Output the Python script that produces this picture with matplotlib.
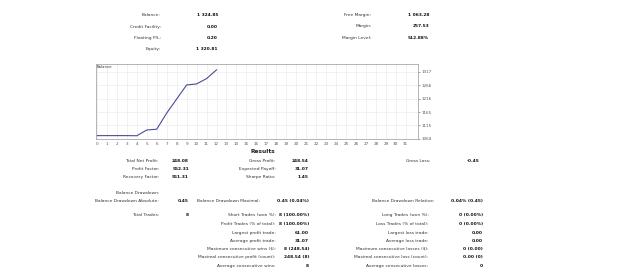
import matplotlib
matplotlib.use("Agg")
import matplotlib.pyplot as plt

W, H = 625, 274

# ---- data ----
trade_idx = [0, 1, 2, 3, 4, 5, 6, 7, 8, 9, 10, 11, 12]
balance = [1076.77, 1076.77, 1076.77, 1076.77, 1076.32, 1098.0, 1101.0,
           1162.0, 1215.0, 1268.0, 1272.0, 1292.0, 1324.85]
x_ticks = list(range(0, 32))
y_ticks = [1064, 1115, 1165, 1216, 1266, 1317]

top_labels = ["Balance:", "Credit Facility:", "Floating P/L:", "Equity:"]
top_values = ["1 324.85", "0.00", "0.20", "1 320.81"]
top2_labels = ["Free Margin:", "Margin:", "Margin Level:"]
top2_values = ["1 063.28", "257.53", "512.88%"]

res_col1 = [("Total Net Profit:", "248.08"), ("Profit Factor:", "552.31"),
            ("Recovery Factor:", "551.31")]
res_col2 = [("Gross Profit:", "248.54"), ("Expected Payoff:", "31.07"),
            ("Sharpe Ratio:", "1.45")]
res_col3 = [("Gross Loss:", "-0.45")]

trade_col2 = [("Short Trades (won %):", "8 (100.00%)"),
              ("Profit Trades (% of total):", "8 (100.00%)"),
              ("Largest profit trade:", "61.00"),
              ("Average profit trade:", "31.07"),
              ("Maximum consecutive wins ($):", "8 (248.54)"),
              ("Maximal consecutive profit (count):", "248.54 (8)"),
              ("Average consecutive wins:", "8")]
trade_col3 = [("Long Trades (won %):", "0 (0.00%)"),
              ("Loss Trades (% of total):", "0 (0.00%)"),
              ("Largest loss trade:", "0.00"),
              ("Average loss trade:", "0.00"),
              ("Maximum consecutive losses ($):", "0 (0.00)"),
              ("Maximal consecutive loss (count):", "0.00 (0)"),
              ("Average consecutive losses:", "0")]

plt.rcParams['font.family'] = ['DejaVu Sans']
FS = 3.2
fig = plt.figure(figsize=(W / 100, H / 100), dpi=100)


def T(x, y, s, ha='right', bold=False, size=FS, color='#333333'):
    fig.text(x / W, 1 - y / H, s, ha=ha, va='center', fontsize=size,
             fontweight='bold' if bold else 'normal', color=color)


# top summary
for i, (l, v) in enumerate(zip(top_labels, top_values)):
    y = [15, 27, 38, 48.7][i]
    T(161, y, l)
    T(218, y, v, bold=True, color='#111111')
for i, (l, v) in enumerate(zip(top2_labels, top2_values)):
    y = [15.3, 26.3, 37.7][i]
    T(371.5, y, l)
    T(429, y, v, bold=True, color='#111111')

# chart
x0, x1, y0, y1 = 96, 417.7, 64.3, 139
ax = fig.add_axes([x0 / W, 1 - y1 / H, (x1 - x0) / W, (y1 - y0) / H])
ax.plot(trade_idx, balance, color='#4b4b9c', lw=0.8)
ax.set_xlim(-0.1, 32.2)
ax.set_ylim(1064, 1346)
ax.set_xticks(x_ticks)
ax.set_xticklabels([str(t) for t in x_ticks])
ax.set_yticks(y_ticks)
ax.set_yticklabels([str(t) for t in y_ticks])
ax.yaxis.tick_right()
ax.tick_params(axis='both', labelsize=3.0, colors='#555555', length=1.5,
               width=0.4, pad=1.5)
ax.tick_params(axis='x', length=0, pad=2)
ax.grid(True, color='#ebebeb', lw=0.5)
for s in ax.spines.values():
    s.set_color('#a8a8a8')
    s.set_linewidth(0.6)
ax.text(0.003, 0.985, "Balance", transform=ax.transAxes, ha='left', va='top',
        fontsize=2.8, color='#333333')

# results
T(263, 151.7, "Results", ha='center', bold=True, size=4.2, color='#222222')
for i, (l, v) in enumerate(res_col1):
    y = [160.7, 169, 177.3][i]
    T(159, y, l)
    T(189, y, v, bold=True, color='#111111')
for i, (l, v) in enumerate(res_col2):
    y = [160.7, 169, 177.3][i]
    T(275.7, y, l)
    T(308.5, y, v, bold=True, color='#111111')
for l, v in res_col3:
    T(430.5, 160.7, l)
    T(479.5, 160.7, v, bold=True, color='#111111')

T(159, 192.7, "Balance Drawdown:")
T(159, 200.7, "Balance Drawdown Absolute:")
T(189, 200.7, "0.45", bold=True, color='#111111')
T(260, 200.7, "Balance Drawdown Maximal:")
T(309, 200.7, "0.45 (0.04%)", bold=True, color='#111111')
T(434, 200.7, "Balance Drawdown Relative:")
T(483, 200.7, "0.04% (0.45)", bold=True, color='#111111')

T(159, 215, "Total Trades:")
T(189, 215, "8", bold=True, color='#111111')
rows_y = [215, 224.3, 232.7, 241, 249, 257, 265.7]
for (l, v), y in zip(trade_col2, rows_y):
    T(275.7, y, l)
    T(309, y, v, bold=True, color='#111111')
for (l, v), y in zip(trade_col3, rows_y):
    T(428.5, y, l)
    T(483, y, v, bold=True, color='#111111')

fig.savefig("out.png", dpi=100)
